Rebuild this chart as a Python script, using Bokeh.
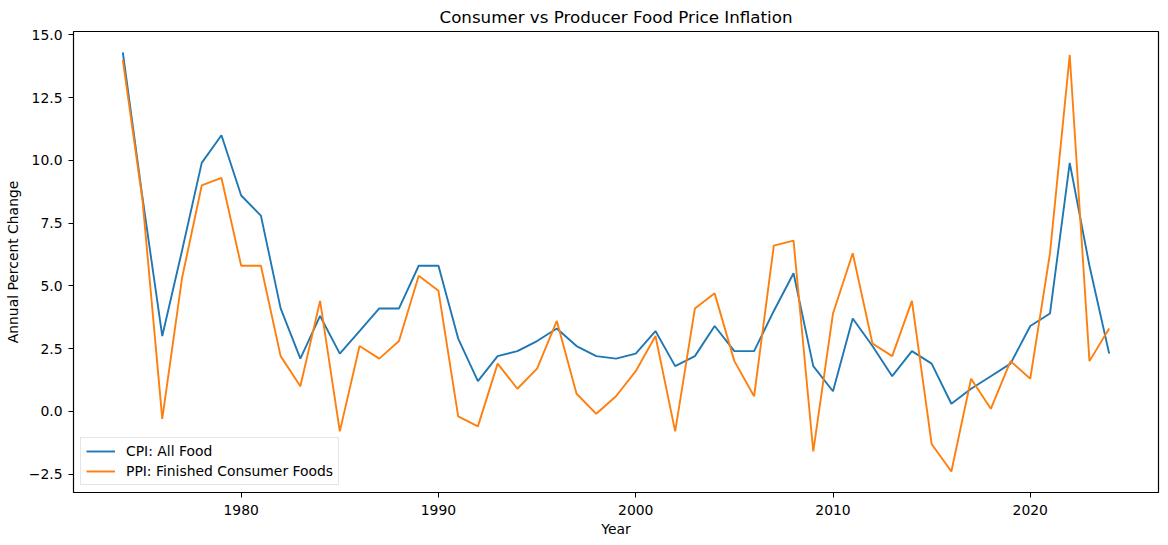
from bokeh.plotting import figure
from bokeh.models import Range1d, FixedTicker, CustomJSTickFormatter, Legend, LegendItem
from bokeh.embed import file_html
from bokeh.resources import INLINE

years = list(range(1974, 2025))
cpi_food = [14.3, 8.5, 3.0, 6.4, 9.9, 11.0, 8.6, 7.8, 4.1, 2.1,
            3.8, 2.3, 3.2, 4.1, 4.1, 5.8, 5.8, 2.9, 1.2, 2.2,
            2.4, 2.8, 3.3, 2.6, 2.2, 2.1, 2.3, 3.2, 1.8, 2.2,
            3.4, 2.4, 2.4, 4.0, 5.5, 1.8, 0.8, 3.7, 2.6, 1.4,
            2.4, 1.9, 0.3, 0.9, 1.4, 1.9, 3.4, 3.9, 9.9, 5.8,
            2.3]
ppi_food = [14.0, 8.4, -0.3, 5.3, 9.0, 9.3, 5.8, 5.8, 2.2, 1.0,
            4.4, -0.8, 2.6, 2.1, 2.8, 5.4, 4.8, -0.2, -0.6, 1.9,
            0.9, 1.7, 3.6, 0.7, -0.1, 0.6, 1.6, 3.0, -0.8, 4.1,
            4.7, 2.0, 0.6, 6.6, 6.8, -1.6, 3.9, 6.3, 2.7, 2.2,
            4.4, -1.3, -2.4, 1.3, 0.1, 2.0, 1.3, 6.3, 14.2, 2.0,
            3.3]
x_ticks = [1980, 1990, 2000, 2010, 2020]
y_ticks = [-2.5, 0.0, 2.5, 5.0, 7.5, 10.0, 12.5, 15.0]

FONT = "DejaVu Sans"
FS = "13.9px"

p = figure(width=1168, height=545, output_backend="svg", toolbar_location=None,
           title="Consumer vs Producer Food Price Inflation",
           x_range=Range1d(1971.5, 2026.5), y_range=Range1d(-3.235, 15.135))
p.min_border_left = 73
p.min_border_right = 10
p.min_border_top = 31
p.min_border_bottom = 53
p.background_fill_color = "white"
p.border_fill_color = "white"
p.outline_line_color = "black"
p.outline_line_alpha = 1.0
p.outline_line_width = 1.2
p.xgrid.visible = False
p.ygrid.visible = False

p.title.align = "center"
p.title.text_font = FONT
p.title.text_font_size = "16.7px"
p.title.text_font_style = "normal"
p.title.text_color = "black"
p.title.standoff = 9

for ax in (p.xaxis[0], p.yaxis[0]):
    ax.axis_line_color = None
    ax.major_tick_out = 5
    ax.major_tick_in = 0
    ax.major_tick_line_color = "black"
    ax.minor_tick_line_color = None
    ax.major_label_text_font = FONT
    ax.major_label_text_font_size = FS
    ax.major_label_text_color = "black"
    ax.axis_label_text_font = FONT
    ax.axis_label_text_font_size = FS
    ax.axis_label_text_font_style = "normal"
    ax.axis_label_text_color = "black"

p.xaxis[0].ticker = FixedTicker(ticks=x_ticks)
p.yaxis[0].ticker = FixedTicker(ticks=y_ticks)
p.yaxis[0].formatter = CustomJSTickFormatter(
    code='return (tick < 0 ? "\u2212" : "") + Math.abs(tick).toFixed(1);')
p.xaxis[0].axis_label = "Year"
p.yaxis[0].axis_label = "Annual Percent Change"
p.xaxis[0].major_label_standoff = 7
p.yaxis[0].major_label_standoff = 6
p.xaxis[0].axis_label_standoff = 3
p.yaxis[0].axis_label_standoff = 5

r1 = p.line(years, cpi_food, line_color="#1f77b4", line_width=1.9)
r2 = p.line(years, ppi_food, line_color="#ff7f0e", line_width=1.9)

legend = Legend(items=[LegendItem(label="CPI: All Food", renderers=[r1]),
                       LegendItem(label="PPI: Finished Consumer Foods", renderers=[r2])],
                location="bottom_left")
legend.label_text_font = FONT
legend.label_text_font_size = FS
legend.label_text_color = "black"
legend.glyph_width = 29
legend.glyph_height = 16
legend.label_height = 16
legend.label_standoff = 11
legend.spacing = 4
legend.padding = 5
legend.margin = 7
legend.border_line_color = "#cccccc"
legend.border_line_width = 1
legend.background_fill_alpha = 0.8
p.add_layout(legend)

open("out.html", "w").write(file_html(p, INLINE))
